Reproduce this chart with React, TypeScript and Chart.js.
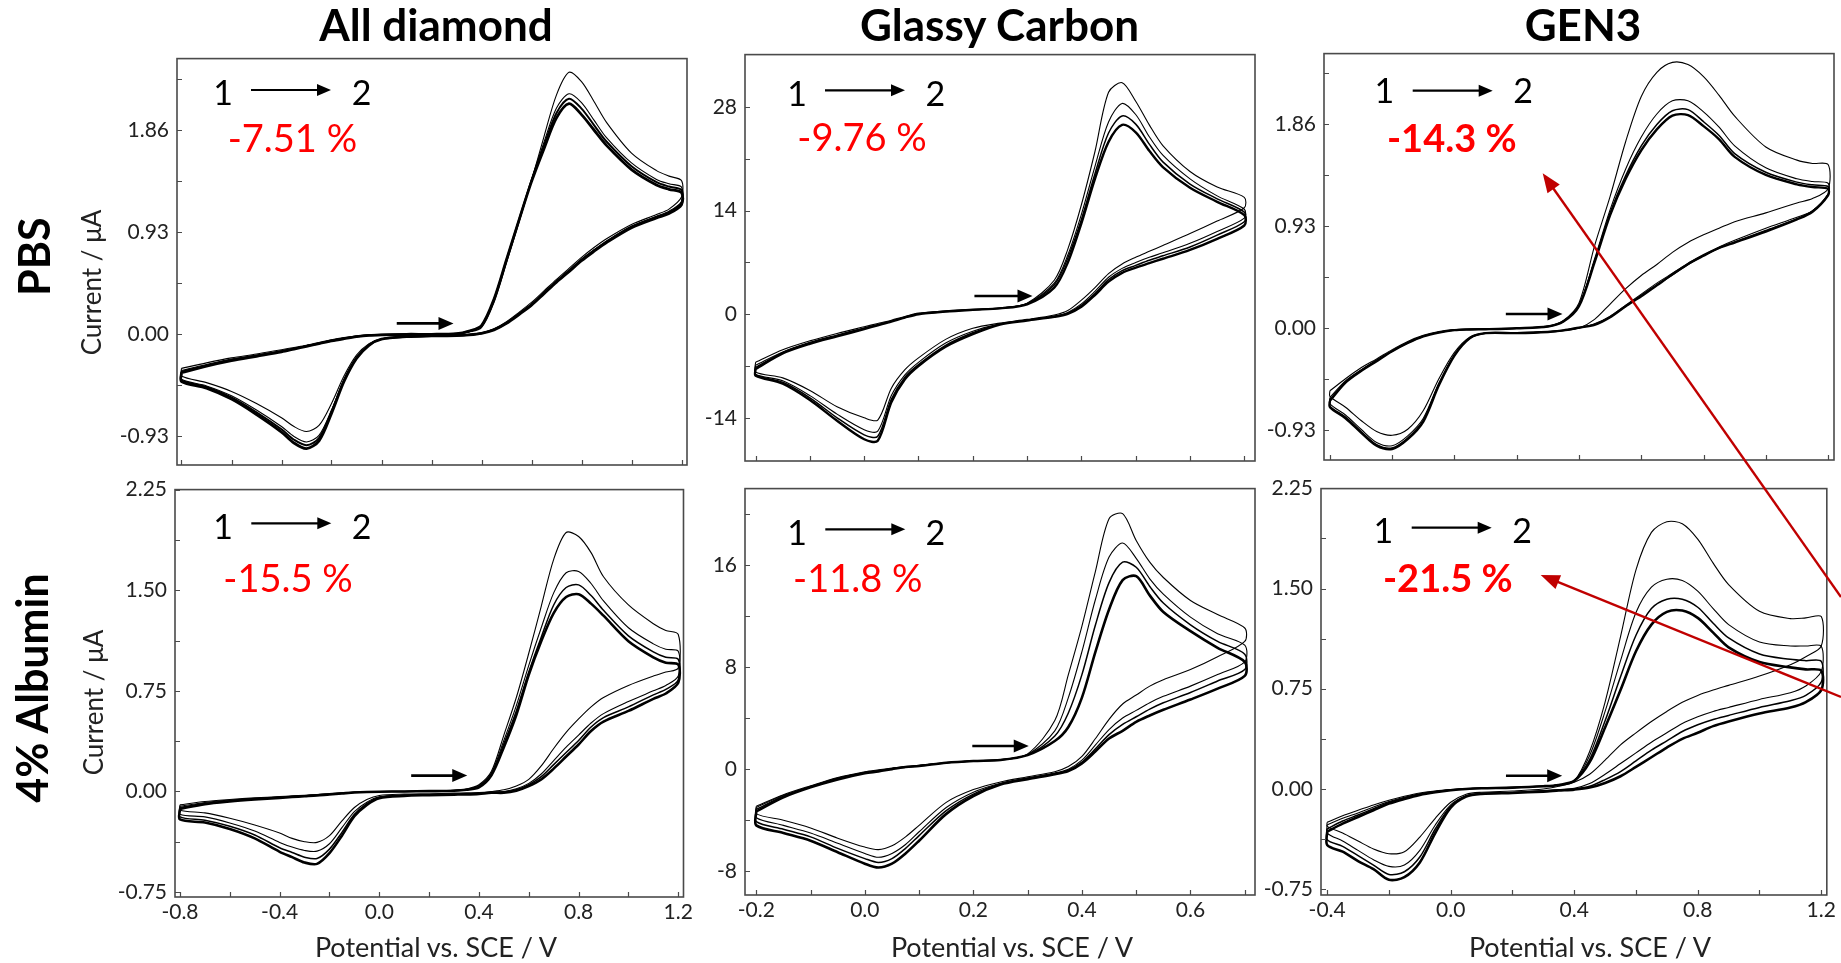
import React, { useEffect, useRef } from 'react';
import { Chart, registerables } from 'chart.js';
Chart.register(...registerables);

const FONT = 'Lato, "Open Sans", sans-serif';

// ---------- potential grids (V vs SCE) ----------
const E_AD = [-0.8, -0.7, -0.6, -0.5, -0.4, -0.35, -0.3, -0.25, -0.2, -0.15, -0.1, -0.05, 0, 0.1, 0.2, 0.3, 0.35, 0.4, 0.45, 0.5, 0.55, 0.6, 0.65, 0.7, 0.75, 0.8, 0.85, 0.9, 1.0, 1.1, 1.15, 1.2];
const E_GC = [-0.2, -0.15, -0.1, -0.05, 0, 0.025, 0.05, 0.075, 0.1, 0.15, 0.2, 0.25, 0.3, 0.35, 0.375, 0.4, 0.425, 0.45, 0.475, 0.5, 0.525, 0.55, 0.6, 0.65, 0.7];
const E_G3 = [-0.4, -0.35, -0.3, -0.25, -0.2, -0.15, -0.1, -0.05, 0, 0.05, 0.1, 0.2, 0.3, 0.35, 0.4, 0.45, 0.5, 0.55, 0.6, 0.65, 0.7, 0.75, 0.8, 0.85, 0.9, 1.0, 1.1, 1.15, 1.2];

// ---------- All diamond, PBS (µA) ----------
const AD_PBS_C1_FWD = [-0.31, -0.26, -0.215, -0.18, -0.14, -0.12, -0.10, -0.075, -0.05, -0.03, -0.015, -0.007, -0.003, 0, 0, 0.004, 0.02, 0.06, 0.29, 0.65, 1.02, 1.40, 1.80, 2.18, 2.385, 2.30, 2.12, 1.93, 1.65, 1.49, 1.44, 1.40];
const AD_PBS_C1_REV = [-0.38, -0.44, -0.52, -0.63, -0.76, -0.84, -0.885, -0.83, -0.63, -0.38, -0.19, -0.085, -0.04, -0.02, -0.012, -0.008, -0.002, 0.012, 0.05, 0.115, 0.20, 0.29, 0.395, 0.50, 0.60, 0.70, 0.79, 0.87, 1.0, 1.09, 1.14, 1.25];
const AD_PBS_C2_FWD = [-0.33, -0.275, -0.225, -0.19, -0.15, -0.128, -0.105, -0.08, -0.055, -0.035, -0.018, -0.008, -0.004, 0, 0, 0.005, 0.025, 0.07, 0.31, 0.67, 1.04, 1.41, 1.75, 2.06, 2.19, 2.11, 1.95, 1.79, 1.56, 1.41, 1.37, 1.34];
const AD_PBS_C2_REV = [-0.41, -0.47, -0.56, -0.69, -0.84, -0.93, -0.98, -0.92, -0.69, -0.41, -0.21, -0.095, -0.043, -0.021, -0.014, -0.01, -0.004, 0.01, 0.045, 0.105, 0.19, 0.275, 0.38, 0.485, 0.585, 0.685, 0.77, 0.85, 0.985, 1.075, 1.12, 1.21];
const AD_PBS_CM_FWD = [-0.34, -0.283, -0.233, -0.195, -0.155, -0.131, -0.107, -0.083, -0.058, -0.038, -0.02, -0.009, -0.004, 0, 0, 0.005, 0.028, 0.075, 0.315, 0.675, 1.04, 1.40, 1.72, 2.015, 2.145, 2.055, 1.905, 1.755, 1.53, 1.385, 1.345, 1.315];
const AD_PBS_CM_REV = [-0.42, -0.48, -0.575, -0.71, -0.865, -0.96, -1.01, -0.945, -0.705, -0.42, -0.215, -0.098, -0.044, -0.022, -0.015, -0.011, -0.005, 0.01, 0.042, 0.102, 0.185, 0.27, 0.375, 0.48, 0.578, 0.678, 0.762, 0.842, 0.978, 1.068, 1.11, 1.195];
const AD_PBS_CL_FWD = [-0.35, -0.29, -0.24, -0.20, -0.16, -0.135, -0.11, -0.085, -0.06, -0.04, -0.022, -0.01, -0.005, 0, 0, 0.006, 0.03, 0.08, 0.32, 0.68, 1.04, 1.39, 1.69, 1.97, 2.10, 2.0, 1.86, 1.72, 1.50, 1.36, 1.32, 1.29];
const AD_PBS_CL_REV = [-0.43, -0.49, -0.59, -0.73, -0.89, -0.99, -1.04, -0.97, -0.72, -0.43, -0.22, -0.10, -0.045, -0.022, -0.015, -0.012, -0.005, 0.009, 0.04, 0.10, 0.18, 0.265, 0.37, 0.475, 0.57, 0.67, 0.755, 0.835, 0.97, 1.06, 1.10, 1.18];

// ---------- Glassy carbon, PBS (µA) ----------
const GC_PBS_C1_FWD = [-6.5, -4.8, -3.6, -2.6, -1.7, -1.25, -0.8, -0.3, 0.15, 0.45, 0.65, 0.85, 1.5, 4.6, 8.8, 14.8, 22.0, 30.0, 31.3, 28.8, 25.6, 22.8, 19.3, 17.2, 15.8];
const GC_PBS_C1_REV = [-7.8, -8.6, -10.3, -12.5, -14.0, -14.3, -10.0, -7.5, -5.9, -3.4, -1.9, -1.2, -0.7, -0.1, 0.5, 1.9, 3.6, 5.5, 6.8, 7.7, 8.5, 9.3, 10.9, 12.6, 14.4];
const GC_PBS_C2_FWD = [-6.9, -5.1, -3.8, -2.8, -1.85, -1.4, -0.9, -0.38, 0.07, 0.4, 0.62, 0.82, 1.45, 4.2, 8.0, 13.5, 20.0, 26.0, 28.5, 27.0, 24.0, 21.5, 18.3, 16.0, 14.2];
const GC_PBS_C2_REV = [-8.1, -9.0, -11.0, -13.5, -15.6, -15.8, -11.0, -8.2, -6.5, -3.9, -2.3, -1.3, -0.78, -0.25, 0.25, 1.4, 3.1, 5.0, 6.2, 7.0, 7.7, 8.3, 9.6, 11.2, 13.0];
const GC_PBS_CM_FWD = [-7.2, -5.2, -3.9, -2.9, -1.9, -1.45, -0.95, -0.42, 0.03, 0.38, 0.61, 0.81, 1.4, 4.0, 7.6, 12.8, 19.0, 24.5, 26.8, 25.7, 23.0, 20.6, 17.6, 15.6, 13.8];
const GC_PBS_CM_REV = [-8.2, -9.2, -11.3, -14.0, -16.3, -16.5, -11.5, -8.5, -6.8, -4.2, -2.5, -1.35, -0.82, -0.3, 0.15, 1.2, 2.8, 4.7, 5.9, 6.6, 7.3, 7.9, 9.1, 10.7, 12.5];
const GC_PBS_CL_FWD = [-7.4, -5.3, -4.0, -3.0, -2.0, -1.5, -1.0, -0.45, 0.0, 0.36, 0.6, 0.8, 1.35, 3.6, 7.0, 12.3, 18.3, 23.3, 25.6, 24.6, 22.1, 19.9, 17.1, 15.2, 13.4];
const GC_PBS_CL_REV = [-8.3, -9.4, -11.6, -14.4, -16.9, -17.1, -11.9, -8.8, -7.0, -4.4, -2.7, -1.4, -0.85, -0.35, 0.05, 1.0, 2.6, 4.4, 5.6, 6.3, 6.9, 7.5, 8.7, 10.2, 12.0];

// ---------- GEN3, PBS (µA) ----------
const G3_PBS_C1_FWD = [-0.57, -0.46, -0.36, -0.28, -0.195, -0.12, -0.065, -0.03, -0.012, -0.008, -0.005, 0.0, 0.02, 0.07, 0.23, 0.75, 1.2, 1.7, 2.11, 2.33, 2.42, 2.40, 2.29, 2.12, 1.93, 1.65, 1.53, 1.50, 1.49];
const G3_PBS_C1_REV = [-0.62, -0.72, -0.84, -0.94, -0.975, -0.92, -0.75, -0.46, -0.22, -0.08, -0.045, -0.04, -0.03, -0.02, 0.0, 0.08, 0.22, 0.36, 0.48, 0.58, 0.69, 0.78, 0.85, 0.91, 0.97, 1.05, 1.14, 1.18, 1.27];
const G3_PBS_C2_FWD = [-0.63, -0.48, -0.38, -0.29, -0.205, -0.13, -0.07, -0.035, -0.015, -0.01, -0.007, 0.0, 0.018, 0.065, 0.21, 0.63, 1.08, 1.45, 1.74, 1.95, 2.07, 2.07, 1.97, 1.83, 1.66, 1.46, 1.36, 1.335, 1.32];
const G3_PBS_C2_REV = [-0.69, -0.79, -0.92, -1.04, -1.07, -0.98, -0.82, -0.5, -0.24, -0.088, -0.045, -0.043, -0.033, -0.02, 0.003, 0.04, 0.11, 0.21, 0.31, 0.41, 0.50, 0.59, 0.67, 0.74, 0.80, 0.91, 1.01, 1.07, 1.22];
const G3_PBS_CM_FWD = [-0.65, -0.49, -0.385, -0.295, -0.208, -0.133, -0.073, -0.038, -0.017, -0.011, -0.008, 0.0, 0.016, 0.062, 0.205, 0.61, 1.05, 1.39, 1.66, 1.855, 1.98, 1.99, 1.88, 1.755, 1.59, 1.42, 1.33, 1.305, 1.29];
const G3_PBS_CM_REV = [-0.71, -0.81, -0.94, -1.06, -1.09, -1.0, -0.84, -0.51, -0.245, -0.09, -0.045, -0.044, -0.034, -0.02, 0.004, 0.035, 0.1, 0.2, 0.3, 0.395, 0.485, 0.58, 0.66, 0.73, 0.785, 0.89, 0.995, 1.065, 1.215];
const G3_PBS_CL_FWD = [-0.66, -0.495, -0.39, -0.30, -0.21, -0.135, -0.075, -0.04, -0.018, -0.012, -0.009, 0, 0.015, 0.06, 0.2, 0.6, 1.03, 1.36, 1.62, 1.81, 1.935, 1.94, 1.84, 1.72, 1.56, 1.395, 1.31, 1.285, 1.27];
const G3_PBS_CL_REV = [-0.72, -0.82, -0.95, -1.07, -1.10, -1.01, -0.85, -0.52, -0.25, -0.09, -0.045, -0.045, -0.035, -0.02, 0.005, 0.03, 0.1, 0.2, 0.29, 0.39, 0.49, 0.585, 0.66, 0.73, 0.78, 0.88, 0.99, 1.06, 1.21];

// ---------- All diamond, 4% albumin (µA) ----------
const AD_ALB_C1_FWD = [-0.10, -0.075, -0.06, -0.048, -0.038, -0.033, -0.028, -0.023, -0.017, -0.011, -0.006, -0.003, -0.001, 0, 0.003, 0.008, 0.018, 0.05, 0.15, 0.42, 0.70, 1.03, 1.38, 1.73, 1.93, 1.90, 1.78, 1.60, 1.39, 1.25, 1.20, 1.17];
const AD_ALB_C1_REV = [-0.14, -0.16, -0.2, -0.25, -0.31, -0.35, -0.375, -0.38, -0.33, -0.22, -0.12, -0.06, -0.03, -0.02, -0.017, -0.013, -0.01, -0.008, 0.0, 0.012, 0.04, 0.09, 0.19, 0.32, 0.44, 0.54, 0.63, 0.70, 0.79, 0.86, 0.89, 0.92];
const AD_ALB_C2_FWD = [-0.11, -0.082, -0.065, -0.052, -0.042, -0.037, -0.031, -0.026, -0.019, -0.013, -0.007, -0.003, -0.001, 0, 0.003, 0.007, 0.016, 0.045, 0.14, 0.38, 0.64, 0.94, 1.22, 1.48, 1.63, 1.64, 1.55, 1.42, 1.22, 1.10, 1.06, 1.045];
const AD_ALB_C2_REV = [-0.17, -0.19, -0.235, -0.295, -0.38, -0.415, -0.44, -0.445, -0.39, -0.27, -0.15, -0.08, -0.04, -0.027, -0.023, -0.02, -0.017, -0.014, -0.005, 0.0, 0.02, 0.06, 0.13, 0.23, 0.33, 0.42, 0.51, 0.58, 0.67, 0.75, 0.79, 0.86];
const AD_ALB_CM_FWD = [-0.12, -0.088, -0.07, -0.056, -0.045, -0.04, -0.034, -0.028, -0.021, -0.014, -0.007, -0.004, -0.002, 0, 0.002, 0.006, 0.014, 0.038, 0.13, 0.355, 0.6, 0.89, 1.15, 1.39, 1.52, 1.54, 1.46, 1.35, 1.16, 1.04, 1.0, 0.985];
const AD_ALB_CM_REV = [-0.19, -0.215, -0.26, -0.325, -0.42, -0.455, -0.49, -0.5, -0.43, -0.305, -0.17, -0.09, -0.045, -0.03, -0.026, -0.022, -0.02, -0.016, -0.008, -0.005, 0.012, 0.05, 0.11, 0.2, 0.29, 0.38, 0.48, 0.55, 0.63, 0.72, 0.76, 0.83];
const AD_ALB_CL_FWD = [-0.13, -0.095, -0.075, -0.06, -0.048, -0.042, -0.036, -0.03, -0.022, -0.015, -0.008, -0.004, -0.002, 0, 0.002, 0.005, 0.012, 0.03, 0.12, 0.33, 0.57, 0.87, 1.12, 1.33, 1.45, 1.47, 1.40, 1.31, 1.12, 1.0, 0.96, 0.945];
const AD_ALB_CL_REV = [-0.209, -0.232, -0.28, -0.35, -0.45, -0.49, -0.53, -0.54, -0.46, -0.33, -0.185, -0.1, -0.05, -0.033, -0.028, -0.024, -0.022, -0.018, -0.01, -0.01, 0.006, 0.04, 0.09, 0.17, 0.26, 0.35, 0.45, 0.52, 0.60, 0.69, 0.73, 0.81];

// ---------- Glassy carbon, 4% albumin (µA) ----------
const GC_ALB_C1_FWD = [-2.9, -2.0, -1.3, -0.65, -0.2, -0.05, 0.08, 0.2, 0.3, 0.5, 0.65, 0.75, 1.2, 3.8, 7.4, 11.2, 15.5, 19.6, 20.0, 17.9, 16.2, 15.0, 13.2, 12.1, 11.05];
const GC_ALB_C1_REV = [-3.5, -4.0, -4.6, -5.4, -6.1, -6.3, -6.0, -5.3, -4.4, -2.6, -1.6, -1.0, -0.6, -0.2, 0.2, 1.0, 2.4, 3.9, 5.1, 5.8, 6.5, 7.0, 7.8, 8.8, 10.0];
const GC_ALB_C2_FWD = [-3.0, -2.05, -1.35, -0.7, -0.25, -0.1, 0.05, 0.17, 0.28, 0.5, 0.65, 0.74, 1.15, 3.0, 5.6, 9.2, 13.3, 16.6, 17.7, 16.5, 14.9, 13.7, 11.9, 10.6, 9.7];
const GC_ALB_C2_REV = [-3.8, -4.4, -5.0, -5.8, -6.6, -6.9, -6.6, -5.9, -4.9, -3.0, -1.8, -1.1, -0.68, -0.3, 0.0, 0.7, 1.9, 3.1, 4.0, 4.6, 5.2, 5.7, 6.5, 7.4, 8.4];
const GC_ALB_CM_FWD = [-3.15, -2.12, -1.4, -0.72, -0.28, -0.14, 0.02, 0.14, 0.26, 0.5, 0.64, 0.73, 1.12, 2.6, 4.4, 7.4, 11.3, 14.6, 16.2, 15.8, 14.3, 13.0, 11.3, 10.0, 9.0];
const GC_ALB_CM_REV = [-4.1, -4.7, -5.3, -6.2, -7.0, -7.3, -7.0, -6.2, -5.2, -3.25, -1.95, -1.15, -0.73, -0.35, -0.08, 0.55, 1.6, 2.7, 3.5, 4.1, 4.7, 5.2, 6.0, 6.9, 7.8];
const GC_ALB_CL_FWD = [-3.3, -2.2, -1.42, -0.8, -0.32, -0.18, 0.0, 0.17, 0.25, 0.5, 0.64, 0.72, 1.1, 2.2, 3.3, 5.6, 9.2, 12.5, 14.8, 15.1, 13.6, 12.3, 10.8, 9.5, 8.4];
const GC_ALB_CL_REV = [-4.4, -5.0, -5.6, -6.5, -7.4, -7.7, -7.4, -6.6, -5.6, -3.5, -2.1, -1.2, -0.78, -0.4, -0.15, 0.45, 1.4, 2.4, 3.0, 3.7, 4.2, 4.65, 5.45, 6.3, 7.3];

// ---------- GEN3, 4% albumin (µA) ----------
const G3_ALB_C1_FWD = [-0.25, -0.2, -0.16, -0.12, -0.085, -0.055, -0.03, -0.015, -0.005, 0.002, 0.005, 0.01, 0.02, 0.03, 0.06, 0.28, 0.65, 1.14, 1.64, 1.92, 2.0, 1.985, 1.87, 1.69, 1.53, 1.33, 1.275, 1.28, 1.29];
const G3_ALB_C1_REV = [-0.28, -0.33, -0.39, -0.45, -0.485, -0.47, -0.36, -0.22, -0.1, -0.04, -0.025, -0.015, 0.0, 0.02, 0.05, 0.11, 0.215, 0.33, 0.42, 0.505, 0.58, 0.648, 0.70, 0.74, 0.775, 0.845, 0.93, 0.99, 1.07];
const G3_ALB_C2_FWD = [-0.27, -0.22, -0.18, -0.135, -0.095, -0.062, -0.036, -0.018, -0.007, 0.001, 0.005, 0.01, 0.02, 0.03, 0.06, 0.25, 0.58, 0.96, 1.32, 1.51, 1.57, 1.56, 1.48, 1.35, 1.23, 1.1, 1.07, 1.07, 1.068];
const G3_ALB_C2_REV = [-0.33, -0.39, -0.46, -0.53, -0.58, -0.57, -0.46, -0.27, -0.12, -0.05, -0.032, -0.025, -0.012, -0.004, 0.005, 0.04, 0.11, 0.19, 0.27, 0.35, 0.42, 0.49, 0.54, 0.58, 0.61, 0.67, 0.72, 0.77, 0.88];
const G3_ALB_CM_FWD = [-0.3, -0.24, -0.195, -0.148, -0.102, -0.068, -0.04, -0.022, -0.008, 0.0, 0.005, 0.01, 0.02, 0.03, 0.06, 0.22, 0.51, 0.84, 1.15, 1.35, 1.42, 1.42, 1.36, 1.24, 1.13, 1.01, 0.97, 0.96, 0.955];
const G3_ALB_CM_REV = [-0.38, -0.43, -0.5, -0.57, -0.64, -0.62, -0.51, -0.3, -0.13, -0.054, -0.035, -0.028, -0.016, -0.008, 0.0, 0.02, 0.07, 0.13, 0.21, 0.29, 0.36, 0.43, 0.48, 0.52, 0.55, 0.61, 0.66, 0.7, 0.8];
const G3_ALB_CL_FWD = [-0.32, -0.26, -0.21, -0.16, -0.11, -0.075, -0.045, -0.025, -0.01, 0.0, 0.005, 0.01, 0.02, 0.03, 0.06, 0.2, 0.46, 0.74, 1.03, 1.23, 1.325, 1.335, 1.28, 1.17, 1.06, 0.95, 0.91, 0.895, 0.885];
const G3_ALB_CL_REV = [-0.42, -0.47, -0.54, -0.60, -0.68, -0.66, -0.55, -0.33, -0.14, -0.058, -0.038, -0.03, -0.02, -0.012, -0.005, 0.01, 0.045, 0.095, 0.165, 0.237, 0.31, 0.375, 0.42, 0.47, 0.505, 0.565, 0.61, 0.65, 0.74];

// ---------- ticks ----------
const X_TICKS_AD = [-0.8, -0.6, -0.4, -0.2, 0, 0.2, 0.4, 0.6, 0.8, 1.0, 1.2];
const X_LABELS_AD = [-0.8, -0.4, 0, 0.4, 0.8, 1.2];
const X_TICKS_GC = [-0.2, -0.1, 0, 0.1, 0.2, 0.3, 0.4, 0.5, 0.6, 0.7];
const X_LABELS_GC = [-0.2, 0, 0.2, 0.4, 0.6];
const X_TICKS_G3 = [-0.4, -0.2, 0, 0.2, 0.4, 0.6, 0.8, 1.0, 1.2];
const X_LABELS_G3 = [-0.4, 0, 0.4, 0.8, 1.2];
const Y_TICKS_PBS = [-0.93, -0.465, 0, 0.465, 0.93, 1.395, 1.86, 2.325];
const Y_LABELS_PBS = [-0.93, 0, 0.93, 1.86];
const Y_TICKS_ALB = [-0.75, -0.375, 0, 0.375, 0.75, 1.125, 1.5, 1.875, 2.25];
const Y_LABELS_ALB = [-0.75, 0, 0.75, 1.5, 2.25];
const Y_TICKS_GC_PBS = [-14, -7, 0, 7, 14, 21, 28];
const Y_LABELS_GC_PBS = [-14, 0, 14, 28];
const Y_TICKS_GC_ALB = [-8, -4, 0, 4, 8, 12, 16, 20];
const Y_LABELS_GC_ALB = [-8, 0, 8, 16];

// ---------- start-of-scan arrows [E from, E to, current] ----------
const START_AD_PBS = [0.061, 0.288, 0.099];
const START_GC_PBS = [0.203, 0.31, 2.46];
const START_G3_PBS = [0.165, 0.347, 0.129];
const START_AD_ALB = [0.128, 0.353, 0.118];
const START_GC_ALB = [0.198, 0.302, 1.81];
const START_G3_ALB = [0.179, 0.361, 0.099];

type Cycle = { fwd: number[]; rev: number[]; w: number };
type PanelCfg = {
  box: number[];
  xr: number[];
  yr: number[];
  E: number[];
  cycles: Cycle[];
  xTicks: number[];
  xLabels: number[];
  yTicks: number[];
  yLabels: number[];
  yDigits: number;
  showX: boolean;
  arrow: number[];
};

function cyc(fwd: number[], rev: number[], w: number): Cycle {
  return { fwd, rev, w };
}

const PANELS: PanelCfg[] = [
  {
    box: [177, 54, 687, 465], xr: [-0.818, 1.222], yr: [-1.19, 2.51], E: E_AD,
    cycles: [cyc(AD_PBS_C1_FWD, AD_PBS_C1_REV, 1.1), cyc(AD_PBS_C2_FWD, AD_PBS_C2_REV, 1.1), cyc(AD_PBS_CM_FWD, AD_PBS_CM_REV, 2), cyc(AD_PBS_CL_FWD, AD_PBS_CL_REV, 2.8)],
    xTicks: X_TICKS_AD, xLabels: X_LABELS_AD, yTicks: Y_TICKS_PBS, yLabels: Y_LABELS_PBS, yDigits: 2, showX: false, arrow: START_AD_PBS,
  },
  {
    box: [745, 50, 1255, 461], xr: [-0.2195, 0.7197], yr: [-19.84, 35.1], E: E_GC,
    cycles: [cyc(GC_PBS_C1_FWD, GC_PBS_C1_REV, 1.1), cyc(GC_PBS_C2_FWD, GC_PBS_C2_REV, 1.1), cyc(GC_PBS_CM_FWD, GC_PBS_CM_REV, 1.5), cyc(GC_PBS_CL_FWD, GC_PBS_CL_REV, 2.4)],
    xTicks: X_TICKS_GC, xLabels: X_LABELS_GC, yTicks: Y_TICKS_GC_PBS, yLabels: Y_LABELS_GC_PBS, yDigits: 0, showX: false, arrow: START_GC_PBS,
  },
  {
    box: [1324, 49, 1834, 460], xr: [-0.419, 1.219], yr: [-1.2, 2.5], E: E_G3,
    cycles: [cyc(G3_PBS_C1_FWD, G3_PBS_C1_REV, 1.1), cyc(G3_PBS_C2_FWD, G3_PBS_C2_REV, 1.1), cyc(G3_PBS_CM_FWD, G3_PBS_CM_REV, 1.5), cyc(G3_PBS_CL_FWD, G3_PBS_CL_REV, 2.4)],
    xTicks: X_TICKS_G3, xLabels: X_LABELS_G3, yTicks: Y_TICKS_PBS, yLabels: Y_LABELS_PBS, yDigits: 2, showX: false, arrow: START_G3_PBS,
  },
  {
    box: [175, 485, 688, 897], xr: [-0.82, 1.221], yr: [-0.787, 2.25], E: E_AD,
    cycles: [cyc(AD_ALB_C1_FWD, AD_ALB_C1_REV, 1.1), cyc(AD_ALB_C2_FWD, AD_ALB_C2_REV, 1.1), cyc(AD_ALB_CM_FWD, AD_ALB_CM_REV, 1.5), cyc(AD_ALB_CL_FWD, AD_ALB_CL_REV, 2.6)],
    xTicks: X_TICKS_AD, xLabels: X_LABELS_AD, yTicks: Y_TICKS_ALB, yLabels: Y_LABELS_ALB, yDigits: 2, showX: true, arrow: START_AD_ALB,
  },
  {
    box: [745, 484, 1255, 895], xr: [-0.2208, 0.7189], yr: [-9.85, 21.96], E: E_GC,
    cycles: [cyc(GC_ALB_C1_FWD, GC_ALB_C1_REV, 1.1), cyc(GC_ALB_C2_FWD, GC_ALB_C2_REV, 1.1), cyc(GC_ALB_CM_FWD, GC_ALB_CM_REV, 1.5), cyc(GC_ALB_CL_FWD, GC_ALB_CL_REV, 2.6)],
    xTicks: X_TICKS_GC, xLabels: X_LABELS_GC, yTicks: Y_TICKS_GC_ALB, yLabels: Y_LABELS_GC_ALB, yDigits: 0, showX: true, arrow: START_GC_ALB,
  },
  {
    box: [1321, 484, 1831, 895], xr: [-0.42, 1.218], yr: [-0.794, 2.248], E: E_G3,
    cycles: [cyc(G3_ALB_C1_FWD, G3_ALB_C1_REV, 1.1), cyc(G3_ALB_C2_FWD, G3_ALB_C2_REV, 1.1), cyc(G3_ALB_CM_FWD, G3_ALB_CM_REV, 1.5), cyc(G3_ALB_CL_FWD, G3_ALB_CL_REV, 2.6)],
    xTicks: X_TICKS_G3, xLabels: X_LABELS_G3, yTicks: Y_TICKS_ALB, yLabels: Y_LABELS_ALB, yDigits: 2, showX: true, arrow: START_G3_ALB,
  },
];

function loopPoints(E: number[], fwd: number[], rev: number[]) {
  const pts = E.map((x, i) => ({ x, y: fwd[i] }));
  for (let i = E.length - 1; i >= 0; i--) pts.push({ x: E[i], y: rev[i] });
  pts.push({ x: E[0], y: fwd[0] });
  return pts;
}

const framePlugin = {
  id: 'frame',
  afterDraw(chart: any, _args: any, opts: any) {
    const { ctx, chartArea: a, scales } = chart;
    ctx.save();
    ctx.strokeStyle = '#4a4a4a';
    ctx.lineWidth = 1.6;
    ctx.strokeRect(a.left, a.top, a.right - a.left, a.bottom - a.top);
    ctx.lineWidth = 1.2;
    ctx.beginPath();
    scales.x.ticks.forEach((t: any) => {
      const px = Math.round(scales.x.getPixelForValue(t.value)) + 0.5;
      ctx.moveTo(px, a.bottom);
      ctx.lineTo(px, a.bottom - 5);
    });
    scales.y.ticks.forEach((t: any) => {
      const py = Math.round(scales.y.getPixelForValue(t.value)) + 0.5;
      ctx.moveTo(a.left, py);
      ctx.lineTo(a.left + 5, py);
    });
    ctx.stroke();
    const ar = opts.arrow;
    if (ar) {
      const x0 = scales.x.getPixelForValue(ar[0]);
      const x1 = scales.x.getPixelForValue(ar[1]);
      const y = scales.y.getPixelForValue(ar[2]);
      ctx.strokeStyle = '#000';
      ctx.fillStyle = '#000';
      ctx.lineWidth = 2.6;
      ctx.beginPath();
      ctx.moveTo(x0, y);
      ctx.lineTo(x1 - 12, y);
      ctx.stroke();
      ctx.beginPath();
      ctx.moveTo(x1, y);
      ctx.lineTo(x1 - 15, y - 6.5);
      ctx.lineTo(x1 - 15, y + 6.5);
      ctx.closePath();
      ctx.fill();
    }
    ctx.restore();
  },
};

const PL = 80, PT = 16, PR = 8, PB = 40;

function Panel({ cfg }: { cfg: PanelCfg }) {
  const ref = useRef<HTMLCanvasElement>(null);
  const [l, t, r, b] = cfg.box;
  const W = r - l + PL + PR;
  const H = b - t + PT + PB;
  useEffect(() => {
    const fmtX = (v: number) => (cfg.xLabels.includes(v) ? v.toFixed(1) : '');
    const fmtY = (v: number) => (cfg.yLabels.includes(v) ? (cfg.yDigits ? v.toFixed(cfg.yDigits) : String(v)) : '');
    const chart = new Chart(ref.current as HTMLCanvasElement, {
      type: 'scatter',
      data: {
        datasets: cfg.cycles.map((c) => ({
          data: loopPoints(cfg.E, c.fwd, c.rev),
          showLine: true,
          borderColor: '#000',
          backgroundColor: '#000',
          borderWidth: c.w,
          pointRadius: 0,
          tension: 0.3,
          fill: false,
        })),
      },
      options: {
        responsive: false,
        animation: false,
        events: [],
        layout: { padding: { left: 0, top: PT, right: PR, bottom: 0 }, autoPadding: false },
        plugins: { legend: { display: false }, tooltip: { enabled: false }, frame: { arrow: cfg.arrow } } as any,
        scales: {
          x: {
            type: 'linear',
            min: cfg.xr[0],
            max: cfg.xr[1],
            bounds: 'data',
            grid: { display: false, drawTicks: false },
            border: { display: false },
            afterFit: (s: any) => { s.height = PB; },
            afterBuildTicks: (s: any) => { s.ticks = cfg.xTicks.map((v) => ({ value: v })); },
            ticks: {
              display: cfg.showX,
              autoSkip: false,
              maxRotation: 0,
              minRotation: 0,
              padding: 3,
              color: '#222',
              font: { family: FONT, size: 21 },
              callback: (v: any) => fmtX(Number(v)),
            },
          },
          y: {
            type: 'linear',
            min: cfg.yr[0],
            max: cfg.yr[1],
            bounds: 'data',
            grid: { display: false, drawTicks: false },
            border: { display: false },
            afterFit: (s: any) => { s.width = PL; },
            afterBuildTicks: (s: any) => { s.ticks = cfg.yTicks.map((v) => ({ value: v })); },
            ticks: {
              autoSkip: false,
              padding: 8,
              color: '#222',
              font: { family: FONT, size: 21 },
              callback: (v: any) => fmtY(Number(v)),
            },
          },
        },
      } as any,
      plugins: [framePlugin as any],
    });
    return () => chart.destroy();
  }, []);
  return (
    <canvas
      ref={ref}
      width={W}
      height={H}
      style={{ position: 'absolute', left: l - PL, top: t - PT, width: W, height: H }}
    />
  );
}

function SvgArrow({ x0, y0, x1, y1, color, w, hl, hw }: any) {
  const dx = x1 - x0, dy = y1 - y0;
  const L = Math.hypot(dx, dy);
  const ux = dx / L, uy = dy / L;
  const bx = x1 - ux * hl, by = y1 - uy * hl;
  const px = -uy * hw, py = ux * hw;
  return (
    <g>
      <line x1={x0} y1={y0} x2={bx + ux * 2} y2={by + uy * 2} stroke={color} strokeWidth={w} />
      <polygon points={`${x1},${y1} ${bx + px},${by + py} ${bx - px},${by - py}`} fill={color} />
    </g>
  );
}

// annotation layout: "1 -> 2" labels and cycle-1 -> cycle-2 change
const ANNOT = [
  { one: [223, 105], ar: [251, 331, 90], two: [361.5, 105], pct: [292.4, 151.7], text: '-7.51 %', bold: false },
  { one: [797, 106], ar: [825, 905, 90.3], two: [935.3, 106], pct: [862, 151], text: '-9.76 %', bold: false },
  { one: [1384.3, 103.3], ar: [1412.7, 1492.7, 90.7], two: [1523, 103.3], pct: [1451.8, 151.7], text: '-14.3 %', bold: true },
  { one: [223, 539.3], ar: [251.3, 331.3, 523.3], two: [361.7, 539.3], pct: [288, 591.7], text: '-15.5 %', bold: false },
  { one: [797, 545], ar: [825.3, 905.3, 529.3], two: [935.3, 545], pct: [857.8, 591.7], text: '-11.8 %', bold: false },
  { one: [1383.3, 543.3], ar: [1411.7, 1491.7, 527.7], two: [1522, 543.3], pct: [1447.8, 591.7], text: '-21.5 %', bold: true },
];

export default function App() {
  return (
    <div style={{ position: 'absolute', left: 0, top: 0, width: 1841, height: 963, background: '#fff', overflow: 'hidden' }}>
      {PANELS.map((p, i) => (
        <Panel key={i} cfg={p} />
      ))}
      <svg
        width={1841}
        height={963}
        style={{ position: 'absolute', left: 0, top: 0, pointerEvents: 'none' }}
        fontFamily={FONT}
      >
        <text x={436} y={41} textAnchor="middle" fontWeight="bold" fontSize={44} fill="#000">All diamond</text>
        <text x={999.5} y={41} textAnchor="middle" fontWeight="bold" fontSize={44} fill="#000">Glassy Carbon</text>
        <text x={1583} y={41} textAnchor="middle" fontWeight="bold" fontSize={44} fill="#000">GEN3</text>

        <text transform="translate(50,256.7) rotate(-90)" textAnchor="middle" fontWeight="bold" fontSize={43} fill="#000">PBS</text>
        <text transform="translate(48,688) rotate(-90)" textAnchor="middle" fontWeight="bold" fontSize={43} fill="#000">4% Albumin</text>

        <text transform="translate(101,282.5) rotate(-90)" textAnchor="middle" fontSize={26} fill="#222">Current / μA</text>
        <text transform="translate(102.5,702.5) rotate(-90)" textAnchor="middle" fontSize={26} fill="#222">Current / μA</text>

        <text x={436} y={957} textAnchor="middle" fontSize={27} fill="#222">Potential vs. SCE / V</text>
        <text x={1012} y={957} textAnchor="middle" fontSize={27} fill="#222">Potential vs. SCE / V</text>
        <text x={1590} y={957} textAnchor="middle" fontSize={27} fill="#222">Potential vs. SCE / V</text>

        {ANNOT.map((a, i) => (
          <g key={i}>
            <text x={a.one[0]} y={a.one[1]} textAnchor="middle" fontSize={34} fill="#000">1</text>
            <SvgArrow x0={a.ar[0]} y0={a.ar[2]} x1={a.ar[1]} y1={a.ar[2]} color="#000" w={2.2} hl={14} hw={6} />
            <text x={a.two[0]} y={a.two[1]} textAnchor="middle" fontSize={34} fill="#000">2</text>
            <text x={a.pct[0]} y={a.pct[1]} textAnchor="middle" fontSize={38} fontWeight={a.bold ? 'bold' : 'normal'} fill="#ff0000">{a.text}</text>
          </g>
        ))}

        <SvgArrow x0={1841} y0={597} x1={1542.7} y1={173.3} color="#c00000" w={2.4} hl={19} hw={7.5} />
        <SvgArrow x0={1841} y0={697} x1={1540.7} y1={575} color="#c00000" w={2.4} hl={19} hw={7.5} />
      </svg>
    </div>
  );
}
